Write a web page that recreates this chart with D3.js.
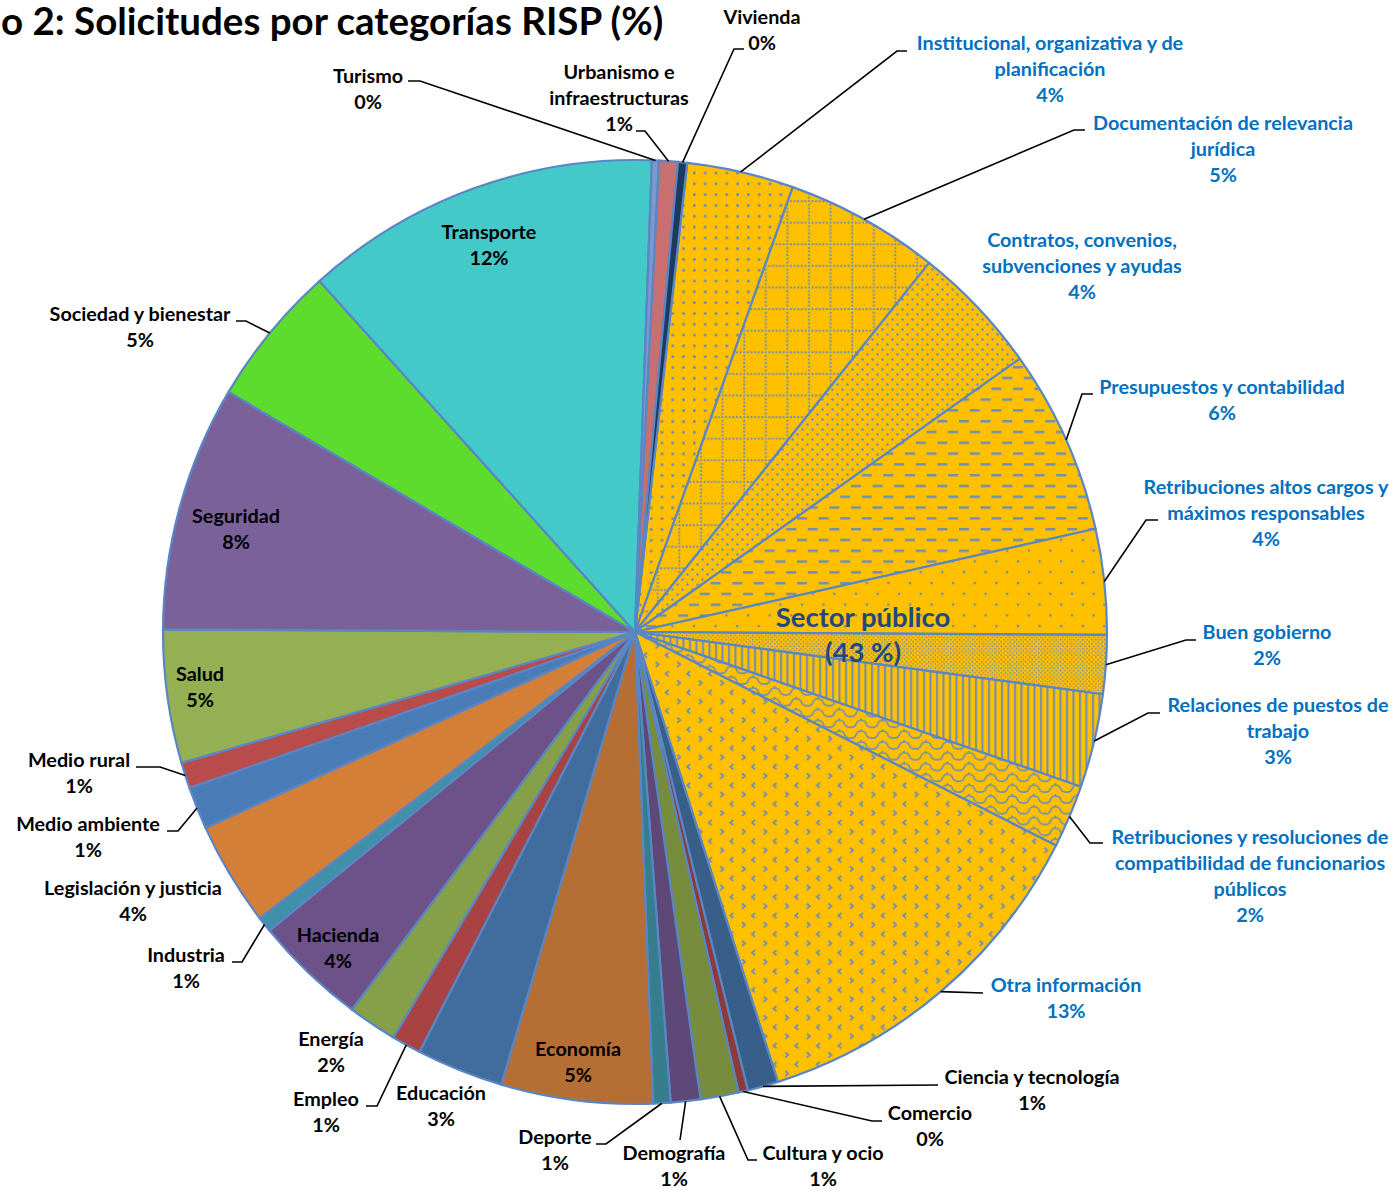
<!DOCTYPE html>
<html lang="es">
<head>
<meta charset="UTF-8">
<title>Solicitudes por categorías RISP (%)</title>
<script src="https://d3js.org/d3.v7.min.js"></script>
<style>
  body { margin: 0; background: #fff; }
  svg text { font-family: Lato, "Open Sans", sans-serif; font-weight: bold; }
</style>
</head>
<body>
<script>
// Datos (orden horario, empezando por la primera subcategoría de Sector público)
const categorias = [
  "Institucional, organizativa y de planificación",
  "Documentación de relevancia jurídica",
  "Contratos, convenios, subvenciones y ayudas",
  "Presupuestos y contabilidad",
  "Retribuciones altos cargos y máximos responsables",
  "Buen gobierno",
  "Relaciones de puestos de trabajo",
  "Retribuciones y resoluciones de compatibilidad de funcionarios públicos",
  "Otra información",
  "Ciencia y tecnología", "Comercio", "Cultura y ocio", "Demografía", "Deporte",
  "Economía", "Educación", "Empleo", "Energía", "Hacienda", "Industria",
  "Legislación y justicia", "Medio ambiente", "Medio rural", "Salud", "Seguridad",
  "Sociedad y bienestar", "Transporte", "Turismo", "Urbanismo e infraestructuras", "Vivienda"
];
const valores = [
  3.65, 5.27, 4.45, 6.30, 3.60, 2.00, 3.20, 2.15, 12.60,
  1.05, 0.32, 1.30, 1.01, 0.59, 5.17, 2.97, 1.00, 1.68, 3.85, 0.53,
  3.55, 1.45, 0.88, 4.55, 8.38, 4.84, 12.19, 0.24, 0.64, 0.31
];
const sectorPublico = categorias.slice(0, 9);

// estilos
const colores = {
  "Ciencia y tecnología": "#385E8A", "Comercio": "#8E3A3A", "Cultura y ocio": "#778C3C",
  "Demografía": "#5E4878", "Deporte": "#367D8E", "Economía": "#B56F34", "Educación": "#406D9E",
  "Empleo": "#A94343", "Energía": "#86A04A", "Hacienda": "#6C5289", "Industria": "#3F90A8",
  "Legislación y justicia": "#D37F38", "Medio ambiente": "#4A7DB8", "Medio rural": "#BA4B4B",
  "Salud": "#94B052", "Seguridad": "#7B619A", "Sociedad y bienestar": "#5EDC2E",
  "Transporte": "#44C9C9", "Turismo": "#7B99CC", "Urbanismo e infraestructuras": "#C87070",
  "Vivienda": "#1F3A60"
};
const amarillo = "#FFC000", trama = "#6C8CBA", borde = "#5A86C5";

// posiciones de etiquetas: [lineas, x, y primera linea, guia]
const etiquetas = {
  "Institucional, organizativa y de planificación": [["Institucional, organizativa y de", "planificación"], 1050, 43, [[907, 51], [897, 51]]],
  "Documentación de relevancia jurídica": [["Documentación de relevancia", "jurídica"], 1223, 123, [[1085, 130], [1074, 130]]],
  "Contratos, convenios, subvenciones y ayudas": [["Contratos, convenios,", "subvenciones y ayudas"], 1082, 240, null],
  "Presupuestos y contabilidad": [["Presupuestos y contabilidad"], 1222, 387, [[1093, 394], [1082, 394]]],
  "Retribuciones altos cargos y máximos responsables": [["Retribuciones altos cargos y", "máximos responsables"], 1266, 487, [[1158, 520], [1146, 520]]],
  "Buen gobierno": [["Buen gobierno"], 1267, 632, [[1196, 640], [1186, 640]]],
  "Relaciones de puestos de trabajo": [["Relaciones de puestos de", "trabajo"], 1278, 705, [[1160, 713], [1148, 713]]],
  "Retribuciones y resoluciones de compatibilidad de funcionarios públicos": [["Retribuciones y resoluciones de", "compatibilidad de funcionarios", "públicos"], 1250, 837, [[1103, 843], [1090, 843]]],
  "Otra información": [["Otra información"], 1066, 985, [[983, 993]]],
  "Ciencia y tecnología": [["Ciencia y tecnología"], 1032, 1077, [[938, 1085]]],
  "Comercio": [["Comercio"], 930, 1113, [[882, 1121], [872, 1121]]],
  "Cultura y ocio": [["Cultura y ocio"], 823, 1153, [[757, 1160], [748, 1160]]],
  "Demografía": [["Demografía"], 674, 1153, [[680, 1140]]],
  "Deporte": [["Deporte"], 555, 1137, [[596, 1144], [606, 1144]]],
  "Economía": [["Economía"], 578, 1049, null],
  "Educación": [["Educación"], 441, 1093, null],
  "Empleo": [["Empleo"], 326, 1099, [[366, 1106], [377, 1106]]],
  "Energía": [["Energía"], 331, 1039, null],
  "Hacienda": [["Hacienda"], 338, 935, null],
  "Industria": [["Industria"], 186, 955, [[232, 962], [242, 962]]],
  "Legislación y justicia": [["Legislación y justicia"], 133, 888, null],
  "Medio ambiente": [["Medio ambiente"], 88, 824, [[167, 831], [178, 831]]],
  "Medio rural": [["Medio rural"], 79, 760, [[136, 767], [160, 767]]],
  "Salud": [["Salud"], 200, 674, null],
  "Seguridad": [["Seguridad"], 236, 516, null],
  "Sociedad y bienestar": [["Sociedad y bienestar"], 140, 314, [[236, 321], [246, 321]]],
  "Transporte": [["Transporte"], 489, 232, null],
  "Turismo": [["Turismo"], 368, 76, [[408, 81], [420, 81]]],
  "Urbanismo e infraestructuras": [["Urbanismo e", "infraestructuras"], 619, 72, [[636, 131], [645, 131]]],
  "Vivienda": [["Vivienda"], 762, 17, [[744, 49], [734, 49]]]
};

const width = 1400, height = 1190;
const cx = 635, cy = 632, r = 472;
const inicio = 6.35 * Math.PI / 180;
const altoLinea = 26;

const svg = d3.select("body").append("svg")
  .attr("width", width).attr("height", height);

// tramas de Sector público
const defs = svg.append("defs");
function patron(id, w, h, dibujar) {
  const p = defs.append("pattern").attr("id", id)
    .attr("patternUnits", "userSpaceOnUse").attr("width", w).attr("height", h);
  p.append("rect").attr("width", w).attr("height", h).attr("fill", amarillo);
  dibujar(p);
}
patron("t0", 10.8, 10.8, p => p.append("circle").attr("cx", 5.4).attr("cy", 5.4).attr("r", 1.5).attr("fill", trama));
patron("t1", 21.6, 21.6, p => {
  for (let i = 0; i < 6; i++) {
    p.append("circle").attr("cx", i * 3.6 + 1.2).attr("cy", 1.2).attr("r", 1.1).attr("fill", trama);
    if (i > 0) p.append("circle").attr("cx", 1.2).attr("cy", i * 3.6 + 1.2).attr("r", 1.1).attr("fill", trama);
  }
});
patron("t2", 10, 10, p => {
  p.append("circle").attr("cx", 2.5).attr("cy", 2.5).attr("r", 1.2).attr("fill", trama);
  p.append("circle").attr("cx", 7.5).attr("cy", 7.5).attr("r", 1.2).attr("fill", trama);
});
patron("t3", 21.6, 21.6, p => {
  p.append("rect").attr("x", 0).attr("y", 4).attr("width", 10).attr("height", 2.4).attr("fill", trama);
  p.append("rect").attr("x", 10.8).attr("y", 14.8).attr("width", 10).attr("height", 2.4).attr("fill", trama);
});
patron("t4", 21.6, 21.6, p => {
  p.append("circle").attr("cx", 5).attr("cy", 5).attr("r", 1.3).attr("fill", trama);
  p.append("circle").attr("cx", 15.8).attr("cy", 15.8).attr("r", 1.3).attr("fill", trama);
});
patron("t5", 4.4, 4.4, p => {
  p.append("circle").attr("cx", 1.1).attr("cy", 1.1).attr("r", 0.8).attr("fill", trama);
  p.append("circle").attr("cx", 3.3).attr("cy", 3.3).attr("r", 0.8).attr("fill", trama);
});
patron("t6", 6.5, 10, p => p.append("rect").attr("x", 2).attr("width", 2).attr("height", 10).attr("fill", trama));
patron("t7", 21.6, 10.8, p => p.append("path")
  .attr("d", "M0 9 Q4 9 5 6 Q6 2 10 2 Q14 2 15 5 Q16 9 21.6 9 M10 2 V-1 M10 11 V12")
  .attr("fill", "none").attr("stroke", trama).attr("stroke-width", 1.6));
patron("t8", 21.6, 18.6, p => {
  p.append("path").attr("d", "M12 2 L9 4.6 L12 7.2").attr("fill", "none").attr("stroke", trama).attr("stroke-width", 1.8);
  p.append("path").attr("d", "M-1 11.2 L2 13.8 L-1 16.4 M20.6 11.2 L23.6 13.8 L20.6 16.4")
    .attr("fill", "none").attr("stroke", trama).attr("stroke-width", 1.8);
});

const datos = categorias.map((c, i) => ({ categoria: c, valor: valores[i] }));
const pie = d3.pie().sort(null).value(d => d.valor)
  .startAngle(inicio).endAngle(inicio + 2 * Math.PI);
const arc = d3.arc().innerRadius(0).outerRadius(r);
const arcos = pie(datos);

const g = svg.append("g").attr("transform", `translate(${cx},${cy})`);
g.selectAll("path.porcion")
  .data(arcos)
  .join("path")
  .attr("class", "porcion")
  .attr("d", arc)
  .attr("fill", d => {
    const k = sectorPublico.indexOf(d.data.categoria);
    return k >= 0 ? `url(#t${k})` : colores[d.data.categoria];
  })
  .attr("stroke", borde)
  .attr("stroke-width", 2.2)
  .attr("stroke-linejoin", "round");

// lineas guia
function puntoBorde(a) {
  const m = (a.startAngle + a.endAngle) / 2;
  return [cx + r * Math.sin(m), cy - r * Math.cos(m)];
}
const guias = arcos.filter(a => etiquetas[a.data.categoria][3]);
svg.append("g").selectAll("path")
  .data(guias)
  .join("path")
  .attr("d", a => d3.line()(etiquetas[a.data.categoria][3].concat([puntoBorde(a)])))
  .attr("fill", "none")
  .attr("stroke", "#000")
  .attr("stroke-width", 1.6);

// etiquetas
const fmt = v => Math.round(v) + "%";
const txt = svg.append("g").selectAll("text")
  .data(arcos)
  .join("text")
  .attr("text-anchor", "middle")
  .attr("font-size", 19.8)
  .attr("fill", d => sectorPublico.includes(d.data.categoria) ? "#0070C0" : "#000");
txt.each(function(d) {
  const [lineas, x, y] = etiquetas[d.data.categoria];
  const todas = lineas.concat([fmt(d.data.valor)]);
  d3.select(this).selectAll("tspan")
    .data(todas)
    .join("tspan")
    .attr("x", x)
    .attr("y", (t, i) => y + i * altoLinea)
    .attr("dy", "0.35em")
    .text(t => t);
});

// etiqueta de grupo
const totalSector = d3.sum(valores.slice(0, 9));
svg.append("text")
  .attr("text-anchor", "middle")
  .attr("font-size", 27.5)
  .attr("fill", "#1F497D")
  .selectAll("tspan")
  .data(["Sector público", "(" + Math.round(totalSector) + " %)"])
  .join("tspan")
  .attr("x", 863)
  .attr("y", (t, i) => 617 + i * 35)
  .attr("dy", "0.35em")
  .text(t => t);

// titulo (en el original empieza cortado en el borde izquierdo)
svg.append("text")
  .attr("x", 1).attr("y", 35)
  .attr("text-anchor", "start")
  .attr("font-size", 38.5)
  .attr("fill", "#000")
  .text("o 2: Solicitudes por categorías RISP (%)");
</script>
</body>
</html>
